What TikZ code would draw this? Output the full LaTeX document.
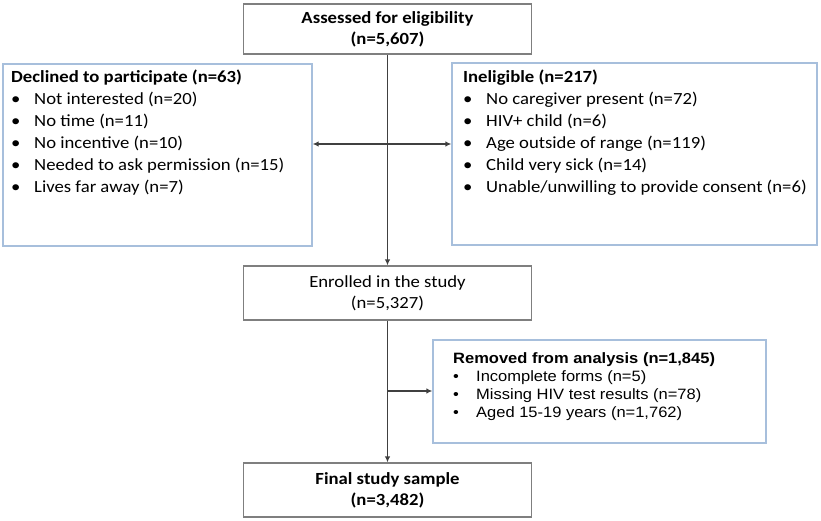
\documentclass[tikz,border=0pt]{standalone}
\usepackage{fontspec}
\setmainfont[FakeStretch=1.1]{Carlito}
\newfontfamily\arialfont[FakeStretch=1.1]{Liberation Sans}
\usetikzlibrary{arrows.meta}
\definecolor{boxgray}{HTML}{7F7F7F}
\definecolor{sideblue}{HTML}{A7BFDC}
\definecolor{linkgray}{HTML}{404040}
\newcommand{\bul}{\makebox[23pt][l]{\textbullet}}
\begin{document}
\begin{tikzpicture}[x=1pt, y=-1pt,
    mainbox/.style={draw=boxgray, line width=1.2pt, align=center, inner sep=0pt,
      font=\fontsize{17}{21}\selectfont},
    sidebox/.style={draw=sideblue, line width=1.2pt, inner sep=0pt},
    listtext/.style={anchor=north west, align=left, inner sep=0pt,
      font=\fontsize{17}{22}\selectfont},
    smalltext/.style={anchor=north west, align=left, inner sep=0pt,
      font=\arialfont\fontsize{15}{18}\selectfont},
    link/.style={draw=linkgray, line width=1.8pt, -{Latex[length=6pt,width=5.5pt]}}]
  \useasboundingbox (0,0) rectangle (821,521);
  \node[mainbox, minimum width=288pt, minimum height=50pt] (assess) at (387.5,29)
    {\textbf{Assessed for eligibility}\\\textbf{(n=5,607)}};
  \node[sidebox, minimum width=309pt, minimum height=182pt] (decl) at (157.5,155) {};
  \node[sidebox, minimum width=365pt, minimum height=182pt] (inel) at (634.5,154) {};
  \node[mainbox, minimum width=288pt, minimum height=54pt] (enrol) at (387.5,293)
    {Enrolled in the study\\(n=5,327)};
  \node[sidebox, minimum width=333pt, minimum height=103pt] (removed) at (599.5,391.5) {};
  \node[mainbox, minimum width=288pt, minimum height=54pt] (final) at (387.5,490)
    {\textbf{Final study sample}\\\textbf{(n=3,482)}};
  \node[listtext] (decltext) at (11,70)
    {\textbf{Declined to participate (n=63)}\\
     \bul Not interested (n=20)\\
     \bul No time (n=11)\\
     \bul No incentive (n=10)\\
     \bul Needed to ask permission (n=15)\\
     \bul Lives far away (n=7)};
  \node[listtext] (ineltext) at (463,70)
    {\textbf{Ineligible (n=217)}\\
     \bul No caregiver present (n=72)\\
     \bul HIV+ child (n=6)\\
     \bul Age outside of range (n=119)\\
     \bul Child very sick (n=14)\\
     \bul Unable/unwilling to provide consent (n=6)};
  \node[smalltext] (removedtext) at (453,352)
    {\textbf{Removed from analysis (n=1,845)}\\
     \bul Incomplete forms (n=5)\\
     \bul Missing HIV test results (n=78)\\
     \bul Aged 15-19 years (n=1,762)};
  \coordinate (split) at (387.5,144);
  \coordinate (drop) at (387.5,391);
  \draw[link] (assess) -- (enrol);
  \draw[link, {Latex[length=6pt,width=5.5pt]}-{Latex[length=6pt,width=5.5pt]}]
    (decl.east |- split) -- (inel.west |- split);
  \draw[link] (enrol) -- (final);
  \draw[link] (drop) -- (removed.west |- drop);
\end{tikzpicture}
\end{document}
